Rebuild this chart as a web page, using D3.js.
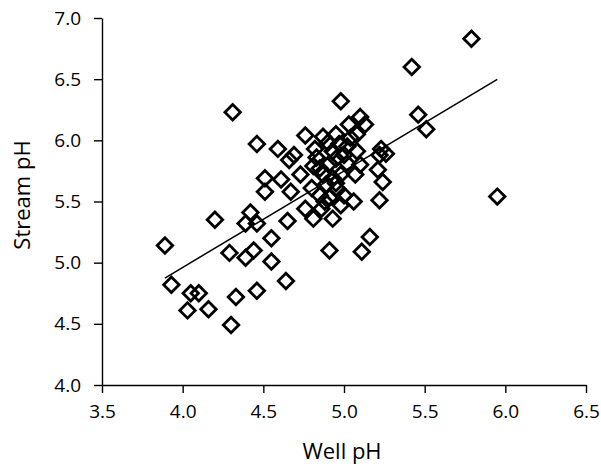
<!DOCTYPE html>
<html>
<head>
<meta charset="utf-8">
<script src="https://cdn.jsdelivr.net/npm/d3@7"></script>
<style>
body{margin:0;background:#fff;}
text{font-family:"Segoe UI","Open Sans",sans-serif;fill:#000;}
</style>
</head>
<body>
<svg id="chart" width="601" height="468"></svg>
<script>
/*
 * Stream pH vs well pH scatter
 */

var wellPH = [
    3.89, 3.93, 4.20, 4.05, 4.10, 4.03, 4.16, 4.30, 4.33, 4.46,
    4.29, 4.39, 4.44, 4.42, 4.39, 4.46, 4.51, 4.51, 4.55, 4.55,
    4.64, 4.31, 4.46, 4.59, 4.66, 4.61, 4.67, 4.65, 4.69,
    5.79, 5.42, 5.46, 5.51, 5.95,
    4.98, 5.10, 5.13, 5.03, 4.76, 4.87, 4.95, 5.04, 5.08, 5.23,
    5.26, 5.22, 4.82, 4.83, 4.93, 5.00, 5.08, 5.10, 5.02, 4.91,
    4.81, 5.21, 4.73, 4.87, 4.98, 5.07, 4.80, 4.89, 4.95, 4.93,
    5.24, 5.22, 5.06, 4.76, 4.81, 4.93, 4.86, 4.98, 4.91, 4.85,
    4.91, 5.16, 5.11, 4.97, 5.02, 4.90, 4.95, 4.85, 4.96, 4.88, 5.00
];
var streamPH = [
    5.14, 4.82, 5.35, 4.75, 4.75, 4.61, 4.62, 4.49, 4.72, 4.77,
    5.08, 5.04, 5.10, 5.41, 5.32, 5.32, 5.58, 5.69, 5.20, 5.01,
    4.85, 6.23, 5.97, 5.93, 5.84, 5.68, 5.58, 5.34, 5.88,
    6.83, 6.60, 6.21, 6.09, 5.54,
    6.32, 6.19, 6.13, 6.13, 6.04, 6.03, 6.05, 6.02, 6.05, 5.93,
    5.89, 5.88, 5.93, 5.86, 5.91, 5.88, 5.91, 5.80, 5.81, 5.81,
    5.79, 5.76, 5.72, 5.72, 5.72, 5.72, 5.61, 5.64, 5.65, 5.69,
    5.66, 5.51, 5.50, 5.44, 5.36, 5.36, 5.44, 5.47, 5.53, 5.55,
    5.10, 5.21, 5.09, 5.97, 5.95, 5.98, 5.85, 5.77, 5.60, 5.50, 5.55
];
var xTicks = [3.5, 4.0, 4.5, 5.0, 5.5, 6.0, 6.5];
var yTicks = [4.0, 4.5, 5.0, 5.5, 6.0, 6.5, 7.0];
var xTitle = 'Well pH';
var yTitle = 'Stream pH';

var svg = d3.select('#chart');
var x = d3.scaleLinear().domain([3.5, 6.5]).range([102, 586]);
var y = d3.scaleLinear().domain([4.0, 7.0]).range([385, 18]);

var points = wellPH.map(function(w, i){
    return {x: w, y: streamPH[i]};
});

// least squares trendline over the data range
var mx = d3.mean(wellPH), my = d3.mean(streamPH);
var sxy = 0, sxx = 0;
for(var i = 0; i < points.length; i++)
{
    sxy += (points[i].x - mx) * (points[i].y - my);
    sxx += (points[i].x - mx) * (points[i].x - mx);
}
var slope = sxy / sxx;
var icpt = my - slope * mx;
var xr = d3.extent(wellPH);

var xAxis = svg.append('g')
    .attr('transform', 'translate(0,' + y(4.0) + ')')
    .call(d3.axisBottom(x).tickValues(xTicks).tickSize(8).tickSizeOuter(0).tickPadding(12)
        .tickFormat(d3.format('.1f')));
var yAxis = svg.append('g')
    .attr('transform', 'translate(' + x(3.5) + ',0)')
    .call(d3.axisLeft(y).tickValues(yTicks).tickSize(8).tickSizeOuter(0).tickPadding(13)
        .tickFormat(d3.format('.1f')));

[xAxis, yAxis].forEach(function(ax){
    ax.select('.domain').attr('stroke', '#000').attr('stroke-width', 1.4);
    ax.selectAll('.tick line').attr('stroke', '#000').attr('stroke-width', 1.4);
    ax.selectAll('.tick text').style('font-size', '19px').attr('fill', '#000');
});

svg.append('line')
    .attr('x1', x(xr[0])).attr('y1', y(icpt + slope * xr[0]))
    .attr('x2', x(xr[1])).attr('y2', y(icpt + slope * xr[1]))
    .attr('stroke', '#000').attr('stroke-width', 1.5);

var diamond = d3.symbol().type(d3.symbolSquare).size(120);
svg.append('g').selectAll('path')
    .data(points)
    .enter()
    .append('path')
    .attr('d', diamond)
    .attr('transform', function(d){
        return 'translate(' + x(d.x) + ',' + y(d.y) + ') rotate(45)';
    })
    .attr('fill', 'none')
    .attr('stroke', '#000')
    .attr('stroke-width', 2.8);

svg.append('text')
    .attr('x', 342).attr('y', 459)
    .attr('text-anchor', 'middle')
    .style('font-size', '22px')
    .text(xTitle);
svg.append('text')
    .attr('transform', 'translate(30,195) rotate(-90)')
    .attr('text-anchor', 'middle')
    .style('font-size', '22px')
    .text(yTitle);
</script>
</body>
</html>
